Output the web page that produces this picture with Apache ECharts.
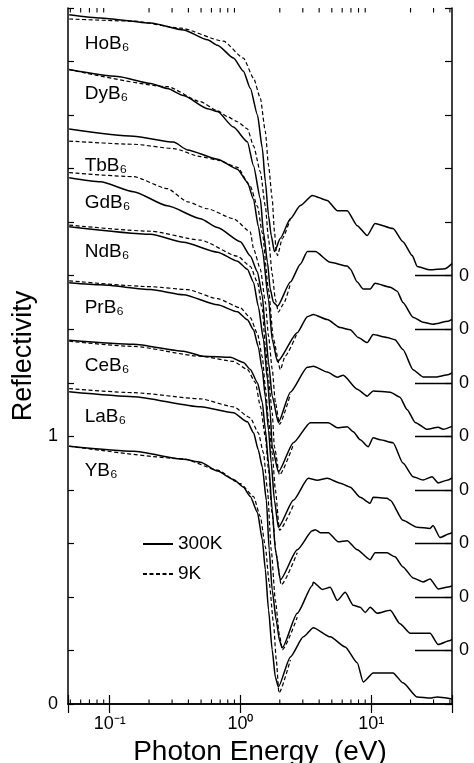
<!DOCTYPE html>
<html>
<head>
<meta charset="utf-8">
<script src="https://cdn.jsdelivr.net/npm/echarts@6/dist/echarts.min.js"></script>
<style>
  html, body { margin: 0; padding: 0; background: #fff; }
  #chart { width: 474px; height: 763px; }
</style>
</head>
<body>
<div id="chart"></div>
<script>
// ---------- DATA: [photon energy (eV), reflectivity] ----------
const YB6_300K = [[0.049,0.963],[0.152,0.944],[0.367,0.914],[0.495,0.903],[0.668,0.870],[0.885,0.839],[1.054,0.810],[1.19,0.775],[1.35,0.715],[1.47,0.614],[1.55,0.502],[1.64,0.352],[1.75,0.202],[1.85,0.100],[1.95,0.064],[2.41,0.176],[3.03,0.251],[3.61,0.285],[4.86,0.251],[6.33,0.213],[7.82,0.154],[8.69,0.082],[10.35,0.116],[14.7,0.116],[17.5,0.079],[22.5,0.026],[28.2,0.022],[31.9,0.026],[41.5,0.019]];
const YB6_9K = [[0.049,0.963],[0.367,0.916],[0.668,0.874],[1.0,0.823],[1.26,0.775],[1.42,0.700],[1.55,0.588],[1.66,0.453],[1.79,0.303],[1.88,0.165],[1.97,0.041],[2.41,0.165]];

const LaB6_300K = [[0.049,0.966],[0.152,0.948],[0.495,0.910],[0.885,0.888],[1.13,0.854],[1.26,0.813],[1.37,0.749],[1.47,0.685],[1.58,0.560],[1.66,0.375],[1.75,0.225],[1.88,0.112],[1.99,0.037],[2.09,0.010],[2.72,0.139],[3.55,0.243],[3.61,0.255],[4.23,0.228],[4.86,0.236],[5.50,0.187],[6.33,0.217],[7.29,0.169],[8.24,0.161],[9.00,0.142],[9.82,0.161],[11.1,0.139],[14.0,0.150],[16.6,0.100],[19.9,0.064],[22.8,0.064],[28.2,0.064],[32.5,0.022],[40.1,0.037],[41.5,0.041]];
const LaB6_9K = [[0.049,0.978],[0.152,0.963],[0.495,0.940],[0.885,0.910],[1.19,0.869],[1.37,0.813],[1.50,0.738],[1.61,0.600],[1.72,0.375],[1.85,0.187],[1.99,0.056],[2.09,0.002],[2.72,0.124]];

const CeB6_300K = [[0.049,0.959],[0.152,0.944],[0.367,0.918],[0.522,0.899],[0.839,0.895],[1.054,0.876],[1.19,0.850],[1.35,0.800],[1.47,0.727],[1.55,0.625],[1.64,0.500],[1.75,0.326],[1.85,0.176],[2.02,0.064],[2.72,0.176],[3.55,0.247],[3.74,0.251],[4.08,0.240],[4.70,0.240],[5.60,0.206],[6.56,0.210],[7.82,0.176],[9.82,0.139],[10.7,0.165],[13.2,0.165],[15.2,0.150],[17.5,0.112],[20.9,0.071],[24.9,0.056],[28.2,0.067],[32.5,0.030],[38.7,0.037],[41.5,0.041]];
const CeB6_9K = [[0.049,0.955],[0.152,0.936],[0.495,0.899],[0.885,0.880],[1.13,0.850],[1.30,0.801],[1.42,0.712],[1.55,0.599],[1.64,0.476],[1.75,0.307],[1.88,0.157],[2.05,0.045],[2.72,0.165]];

const PrB6_300K = [[0.049,0.974],[0.085,0.966],[0.206,0.948],[0.367,0.929],[0.668,0.891],[0.949,0.865],[1.13,0.835],[1.26,0.798],[1.37,0.734],[1.47,0.648],[1.55,0.547],[1.64,0.423],[1.72,0.300],[1.82,0.161],[1.95,0.060],[2.54,0.161],[3.30,0.243],[3.87,0.236],[4.61,0.243],[5.80,0.225],[6.92,0.210],[8.24,0.172],[9.82,0.150],[10.35,0.172],[13.2,0.169],[14.0,0.161],[17.5,0.086],[22.5,0.060],[28.2,0.056],[29.7,0.067],[33.6,0.022],[40.1,0.037],[41.5,0.041]];
const PrB6_9K = [[0.049,0.981],[0.206,0.959],[0.394,0.948],[0.668,0.914],[1.0,0.880],[1.19,0.843],[1.35,0.783],[1.47,0.697],[1.55,0.584],[1.64,0.460],[1.75,0.337],[1.85,0.200],[1.99,0.049],[2.54,0.142]];

const NdB6_300K = [[0.049,0.983],[0.206,0.955],[0.367,0.925],[0.668,0.888],[0.949,0.854],[1.13,0.824],[1.26,0.775],[1.37,0.685],[1.50,0.562],[1.61,0.412],[1.69,0.288],[1.75,0.160],[1.95,0.067],[2.54,0.176],[3.42,0.251],[4.70,0.251],[5.50,0.232],[6.56,0.236],[7.29,0.217],[8.24,0.187],[9.49,0.161],[10.35,0.195],[11.7,0.187],[14.7,0.176],[17.5,0.100],[20.9,0.049],[24.9,0.037],[29.2,0.049],[32.5,0.026],[38.7,0.037],[41.5,0.045]];
const NdB6_9K = [[0.049,0.989],[0.206,0.966],[0.495,0.933],[0.949,0.873],[1.19,0.835],[1.35,0.775],[1.47,0.674],[1.55,0.536],[1.64,0.412],[1.75,0.288],[1.82,0.160],[1.99,0.056],[2.54,0.169]];

const GdB6_300K = [[0.049,0.966],[0.085,0.951],[0.152,0.914],[0.277,0.861],[0.495,0.813],[0.668,0.780],[1.0,0.727],[1.19,0.674],[1.35,0.614],[1.47,0.524],[1.55,0.400],[1.64,0.277],[1.75,0.150],[1.95,0.052],[2.41,0.165],[3.25,0.258],[3.61,0.262],[4.61,0.240],[5.50,0.221],[6.11,0.228],[7.82,0.176],[9.32,0.150],[10.35,0.169],[14.0,0.165],[16.6,0.146],[18.8,0.100],[21.7,0.052],[26.8,0.026],[32.5,0.034],[35.5,0.026],[41.5,0.037]];
const GdB6_9K = [[0.049,0.985],[0.152,0.970],[0.277,0.925],[0.394,0.876],[0.560,0.850],[0.885,0.813],[1.19,0.764],[1.26,0.700],[1.42,0.625],[1.55,0.502],[1.64,0.375],[1.75,0.251],[1.85,0.127],[1.99,0.045],[2.41,0.157]];

const TbB6_300K = [[0.049,0.948],[0.152,0.921],[0.308,0.899],[0.394,0.870],[0.668,0.835],[0.949,0.798],[1.13,0.749],[1.26,0.685],[1.37,0.584],[1.47,0.498],[1.64,0.311],[1.75,0.161],[1.92,0.079],[2.72,0.187],[3.25,0.247],[3.61,0.255],[4.61,0.236],[5.80,0.206],[6.92,0.198],[7.96,0.169],[9.32,0.150],[10.35,0.180],[13.2,0.169],[15.2,0.161],[17.5,0.124],[20.9,0.049],[24.9,0.022],[31.9,0.022],[38.7,0.030],[41.5,0.037]];
const TbB6_9K = [[0.049,0.903],[0.152,0.891],[0.308,0.875],[0.495,0.845],[0.668,0.832],[0.949,0.805],[1.19,0.734],[1.35,0.659],[1.47,0.560],[1.64,0.348],[1.79,0.161],[2.02,0.049],[2.20,0.100],[2.72,0.187]];

const DyB6_300K = [[0.049,0.970],[0.115,0.944],[0.206,0.918],[0.277,0.899],[0.367,0.873],[0.560,0.824],[0.668,0.813],[0.885,0.755],[1.13,0.700],[1.26,0.610],[1.42,0.487],[1.50,0.363],[1.61,0.250],[1.69,0.150],[1.79,0.100],[1.92,0.086],[2.41,0.176],[2.87,0.243],[3.25,0.290],[3.74,0.290],[4.86,0.250],[6.56,0.236],[6.92,0.225],[7.82,0.176],[8.69,0.150],[9.82,0.150],[10.7,0.172],[14.0,0.157],[15.8,0.142],[17.5,0.100],[20.9,0.045],[24.9,0.026],[29.7,0.019],[38.7,0.030],[41.5,0.037]];
const DyB6_9K = [[0.049,0.970],[0.277,0.906],[0.495,0.850],[0.668,0.816],[0.796,0.794],[0.949,0.775],[1.13,0.749],[1.26,0.685],[1.42,0.588],[1.55,0.460],[1.64,0.337],[1.75,0.206],[1.85,0.112],[1.95,0.064],[2.13,0.094],[2.41,0.169]];

const HoB6_300K = [[0.049,0.975],[0.085,0.963],[0.206,0.944],[0.367,0.918],[0.560,0.881],[0.668,0.861],[0.885,0.813],[1.054,0.764],[1.19,0.700],[1.35,0.600],[1.47,0.476],[1.55,0.352],[1.64,0.225],[1.72,0.150],[1.82,0.090],[2.02,0.140],[2.41,0.213],[2.87,0.262],[3.55,0.300],[4.61,0.281],[5.50,0.243],[6.56,0.243],[7.82,0.187],[9.32,0.150],[10.7,0.195],[14.7,0.176],[17.5,0.127],[20.6,0.075],[22.5,0.034],[28.2,0.022],[36.7,0.026],[41.5,0.045]];
const HoB6_9K = [[0.049,0.959],[0.152,0.951],[0.348,0.925],[0.742,0.876],[1.054,0.813],[1.26,0.738],[1.42,0.663],[1.55,0.539],[1.64,0.412],[1.75,0.288],[1.82,0.165],[1.88,0.090],[1.92,0.075],[2.09,0.139],[2.41,0.213]];

const materials = ['YB₆', 'LaB₆', 'CeB₆', 'PrB₆', 'NdB₆', 'GdB₆', 'TbB₆', 'DyB₆', 'HoB₆'];
const offsets = [0, 0.2, 0.4, 0.6, 0.8, 1.0, 1.2, 1.4, 1.6];
const data300K = [YB6_300K, LaB6_300K, CeB6_300K, PrB6_300K, NdB6_300K, GdB6_300K, TbB6_300K, DyB6_300K, HoB6_300K];
const data9K = [YB6_9K, LaB6_9K, CeB6_9K, PrB6_9K, NdB6_9K, GdB6_9K, TbB6_9K, DyB6_9K, HoB6_9K];
const temperatures = ['300K', '9K'];
const yLabelValues = [0, 1];
const xLabelText = { '-1': '10⁻¹', '0': '10⁰', '1': '10¹' };
const minorTicksE = [0.05, 0.06, 0.07, 0.08, 0.09, 0.2, 0.3, 0.4, 0.5, 0.6, 0.7, 0.8, 0.9, 2, 3, 4, 5, 6, 7, 8, 9, 20, 30, 40];

// ---------- CHART ----------
const FONT = '"Liberation Sans", Arial, Helvetica, sans-serif';
const E_MIN = 0.048, E_MAX = 41.5, Y_MIN = 0, Y_MAX = 2.6;
const LABEL_E = 0.0644, LABEL_DROP = 0.092;

const chart = echarts.init(document.getElementById('chart'), null, { renderer: 'canvas' });

const series = [];
materials.forEach((m, i) => {
  series.push({
    name: temperatures[0], type: 'line', xAxisIndex: 0, yAxisIndex: 0,
    data: data300K[i].map(p => [p[0], p[1] + offsets[i]]),
    showSymbol: false, symbol: 'none', smooth: 0.2, smoothMonotone: 'x',
    lineStyle: { color: '#000', width: 1.5, type: 'solid' },
    itemStyle: { color: '#000' }, z: 3
  });
  series.push({
    name: temperatures[1], type: 'line', xAxisIndex: 0, yAxisIndex: 0,
    data: data9K[i].map(p => [p[0], p[1] + offsets[i]]),
    showSymbol: false, symbol: 'none', smooth: 0.2, smoothMonotone: 'x',
    lineStyle: { color: '#000', width: 1.2, type: [4, 2.5] },
    itemStyle: { color: '#000' }, z: 4
  });
});

// material labels, placed just below the lower of the two curves' starting values
series.push({
  name: 'labels', type: 'scatter', xAxisIndex: 0, yAxisIndex: 0,
  symbolSize: 0, silent: true,
  itemStyle: { opacity: 1, color: '#000' },
  data: materials.map((m, i) => ({
    value: [LABEL_E, offsets[i] + Math.min(data300K[i][0][1], data9K[i][0][1]) - LABEL_DROP],
    name: m
  })),
  label: {
    show: true, position: 'right', distance: 0, opacity: 1,
    color: '#000', fontFamily: FONT, fontSize: 19, textBorderWidth: 0,
    formatter: p => p.name
  },
  emphasis: { disabled: true },
  z: 5
});

// minor log ticks on bottom and top axes
series.push({
  name: 'minorTicks', type: 'custom', xAxisIndex: 0, yAxisIndex: 0, silent: true,
  data: minorTicksE.map(e => [e, Y_MIN]),
  encode: { x: 0, y: 1 },
  clip: false,
  renderItem: (params, api) => {
    const e = api.value(0);
    const b = api.coord([e, Y_MIN]);
    const t = api.coord([e, Y_MAX]);
    return {
      type: 'group',
      children: [
        { type: 'line', shape: { x1: b[0], y1: b[1], x2: b[0], y2: b[1] - 4.5 }, style: { stroke: '#000', lineWidth: 1.1 } },
        { type: 'line', shape: { x1: t[0], y1: t[1], x2: t[0], y2: t[1] + 4.5 }, style: { stroke: '#000', lineWidth: 1.1 } }
      ]
    };
  },
  z: 6
});

const option = {
  animation: false,
  backgroundColor: '#fff',
  textStyle: { fontFamily: FONT, color: '#000' },
  grid: { left: 68, right: 22, top: 8, bottom: 59, containLabel: false, outerBoundsMode: 'none' },
  legend: {
    data: temperatures,
    orient: 'vertical',
    left: 137, top: 529,
    itemWidth: 30, itemHeight: 20, itemGap: 10,
    selectedMode: false,
    itemStyle: { opacity: 0, borderWidth: 0 },
    textStyle: { fontFamily: FONT, fontSize: 19, color: '#000', lineHeight: 20 }
  },
  xAxis: [
    {
      type: 'log', logBase: 10, min: E_MIN, max: E_MAX, position: 'bottom',
      name: 'Photon Energy  (eV)', nameLocation: 'middle', nameGap: 18,
      nameTextStyle: { fontFamily: FONT, fontSize: 28, color: '#000' },
      axisLine: { show: true, lineStyle: { color: '#000', width: 1.5 } },
      axisTick: { show: true, inside: true, length: 9, lineStyle: { color: '#000', width: 1.2 } },
      splitLine: { show: false }, minorTick: { show: false },
      axisLabel: {
        margin: 11, color: '#000', opacity: 1, fontFamily: FONT, fontSize: 18, textBorderWidth: 0,
        hideOverlap: false,
        formatter: v => {
          const l = Math.log10(v), k = Math.round(l);
          if (Math.abs(l - k) > 1e-6) return '';
          return xLabelText[String(k)] || '';
        }
      }
    },
    {
      type: 'log', logBase: 10, min: E_MIN, max: E_MAX, position: 'top',
      axisLine: { show: true, lineStyle: { color: '#000', width: 1.5 } },
      axisTick: { show: true, inside: true, length: 9, lineStyle: { color: '#000', width: 1.2 } },
      axisLabel: { show: false }, splitLine: { show: false }
    }
  ],
  yAxis: [
    {
      type: 'value', min: Y_MIN, max: Y_MAX, interval: 0.2, position: 'left',
      name: 'Reflectivity', nameLocation: 'middle', nameGap: 24, nameRotate: 90,
      nameTextStyle: { fontFamily: FONT, fontSize: 27, color: '#000' },
      axisLine: { show: true, lineStyle: { color: '#000', width: 1.5 } },
      axisTick: { show: true, inside: true, length: 6, lineStyle: { color: '#000', width: 1.2 } },
      splitLine: { show: false },
      axisLabel: {
        margin: 10, fontFamily: FONT, fontSize: 18, color: '#000',
        formatter: v => {
          const hit = yLabelValues.find(u => Math.abs(u - v) < 1e-6);
          return hit === undefined ? '' : String(hit);
        }
      }
    },
    {
      type: 'value', min: Y_MIN, max: Y_MAX, interval: 0.2, position: 'right',
      axisLine: { show: true, lineStyle: { color: '#000', width: 1.5 } },
      axisTick: { show: true, inside: true, length: 7, lineStyle: { color: '#000', width: 1.2 } },
      axisLabel: { show: false }, splitLine: { show: false }
    },
    {
      type: 'value', min: Y_MIN, max: Y_MAX, interval: 0.2, position: 'right',
      axisLine: { show: false },
      axisTick: { show: true, inside: true, length: 37, customValues: offsets.slice(1), lineStyle: { color: '#000', width: 1.3 } },
      axisLabel: {
        show: true, margin: 7, fontFamily: FONT, fontSize: 18, color: '#000',
        customValues: offsets.slice(1),
        formatter: () => '0'
      },
      splitLine: { show: false }
    }
  ],
  series: series
};

chart.setOption(option);
</script>
</body>
</html>
